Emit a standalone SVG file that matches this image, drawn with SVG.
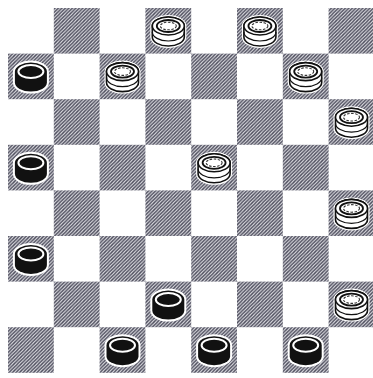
<svg xmlns="http://www.w3.org/2000/svg" width="373" height="378" viewBox="0 0 373 378">
<style>
.dk{fill:url(#hatch)}
.halo{fill:#fff;stroke:#fff;stroke-width:4}
.bk{fill:#111}
.wo{fill:#fff;stroke:#111;stroke-width:1.6}
</style>
<defs>
<pattern id="hatch" patternUnits="userSpaceOnUse" width="3.5" height="3.5">
<rect width="3.5" height="3.5" fill="#eeeef2"/>
<path d="M-1,4.5 L4.5,-1 M-1,1 L1,-1 M2.5,4.5 L4.5,2.5" stroke="#4c4c5c" stroke-width="1.4"/>
</pattern>
<g id="black">
<path class="halo" d="M-16,-5 A16 9 0 0 1 16 -5 L16 6 A16 9 0 0 1 -16 6 Z"/>
<path class="bk" d="M-16,-5 A16 9 0 0 1 16 -5 L16 6 A16 9 0 0 1 -16 6 Z"/>
<ellipse cx="0" cy="-5" rx="12.5" ry="6.5" fill="#111" stroke="#fff" stroke-width="2"/>
</g>
<g id="white">
<path class="halo" d="M-16,-5 A16 9 0 0 1 16 -5 L16 6 A16 9 0 0 1 -16 6 Z"/>
<path class="wo" d="M-16,-5 A16 9 0 0 1 16 -5 L16 6 A16 9 0 0 1 -16 6 Z"/>
<ellipse cx="0" cy="-5" rx="16" ry="9" fill="#fff" stroke="#111" stroke-width="1.6"/>
<ellipse cx="0" cy="-5" rx="11.5" ry="6" fill="#fff" stroke="#111" stroke-width="1.8"/>
<ellipse cx="0" cy="-5" rx="8" ry="3.8" fill="none" stroke="#333" stroke-width="1.1" stroke-dasharray="2.5 1.5"/>
<path d="M-16,1 A16 9 0 0 0 16 1" fill="none" stroke="#111" stroke-width="1.2"/>
</g>
</defs>
<rect width="373" height="378" fill="#fff"/>
<g id="board">
<rect class="dk" x="53.8" y="8" width="45.8" height="45.6"/>
<rect class="dk" x="145.4" y="8" width="45.8" height="45.6"/>
<rect class="dk" x="237" y="8" width="45.8" height="45.6"/>
<rect class="dk" x="328.6" y="8" width="45.8" height="45.6"/>
<rect class="dk" x="8" y="53.6" width="45.8" height="45.6"/>
<rect class="dk" x="99.6" y="53.6" width="45.8" height="45.6"/>
<rect class="dk" x="191.2" y="53.6" width="45.8" height="45.6"/>
<rect class="dk" x="282.8" y="53.6" width="45.8" height="45.6"/>
<rect class="dk" x="53.8" y="99.2" width="45.8" height="45.6"/>
<rect class="dk" x="145.4" y="99.2" width="45.8" height="45.6"/>
<rect class="dk" x="237" y="99.2" width="45.8" height="45.6"/>
<rect class="dk" x="328.6" y="99.2" width="45.8" height="45.6"/>
<rect class="dk" x="8" y="144.8" width="45.8" height="45.6"/>
<rect class="dk" x="99.6" y="144.8" width="45.8" height="45.6"/>
<rect class="dk" x="191.2" y="144.8" width="45.8" height="45.6"/>
<rect class="dk" x="282.8" y="144.8" width="45.8" height="45.6"/>
<rect class="dk" x="53.8" y="190.4" width="45.8" height="45.6"/>
<rect class="dk" x="145.4" y="190.4" width="45.8" height="45.6"/>
<rect class="dk" x="237" y="190.4" width="45.8" height="45.6"/>
<rect class="dk" x="328.6" y="190.4" width="45.8" height="45.6"/>
<rect class="dk" x="8" y="236" width="45.8" height="45.6"/>
<rect class="dk" x="99.6" y="236" width="45.8" height="45.6"/>
<rect class="dk" x="191.2" y="236" width="45.8" height="45.6"/>
<rect class="dk" x="282.8" y="236" width="45.8" height="45.6"/>
<rect class="dk" x="53.8" y="281.6" width="45.8" height="45.6"/>
<rect class="dk" x="145.4" y="281.6" width="45.8" height="45.6"/>
<rect class="dk" x="237" y="281.6" width="45.8" height="45.6"/>
<rect class="dk" x="328.6" y="281.6" width="45.8" height="45.6"/>
<rect class="dk" x="8" y="327.2" width="45.8" height="45.6"/>
<rect class="dk" x="99.6" y="327.2" width="45.8" height="45.6"/>
<rect class="dk" x="191.2" y="327.2" width="45.8" height="45.6"/>
<rect class="dk" x="282.8" y="327.2" width="45.8" height="45.6"/>
</g>
<g id="pieces">
<use id="w1" href="#white" x="168.3" y="31"/>
<use id="w2" href="#white" x="259.9" y="31"/>
<use id="b1" href="#black" x="30.9" y="76.6"/>
<use id="w3" href="#white" x="122.5" y="76.6"/>
<use id="w4" href="#white" x="305.7" y="76.6"/>
<use id="w5" href="#white" x="351.5" y="122.2"/>
<use id="b2" href="#black" x="30.9" y="167.8"/>
<use id="w6" href="#white" x="214.1" y="167.8"/>
<use id="w7" href="#white" x="351.5" y="213.4"/>
<use id="b3" href="#black" x="30.9" y="259"/>
<use id="b4" href="#black" x="168.3" y="304.6"/>
<use id="w8" href="#white" x="351.5" y="304.6"/>
<use id="b5" href="#black" x="122.5" y="350.2"/>
<use id="b6" href="#black" x="214.1" y="350.2"/>
<use id="b7" href="#black" x="305.7" y="350.2"/>
</g>
</svg>
